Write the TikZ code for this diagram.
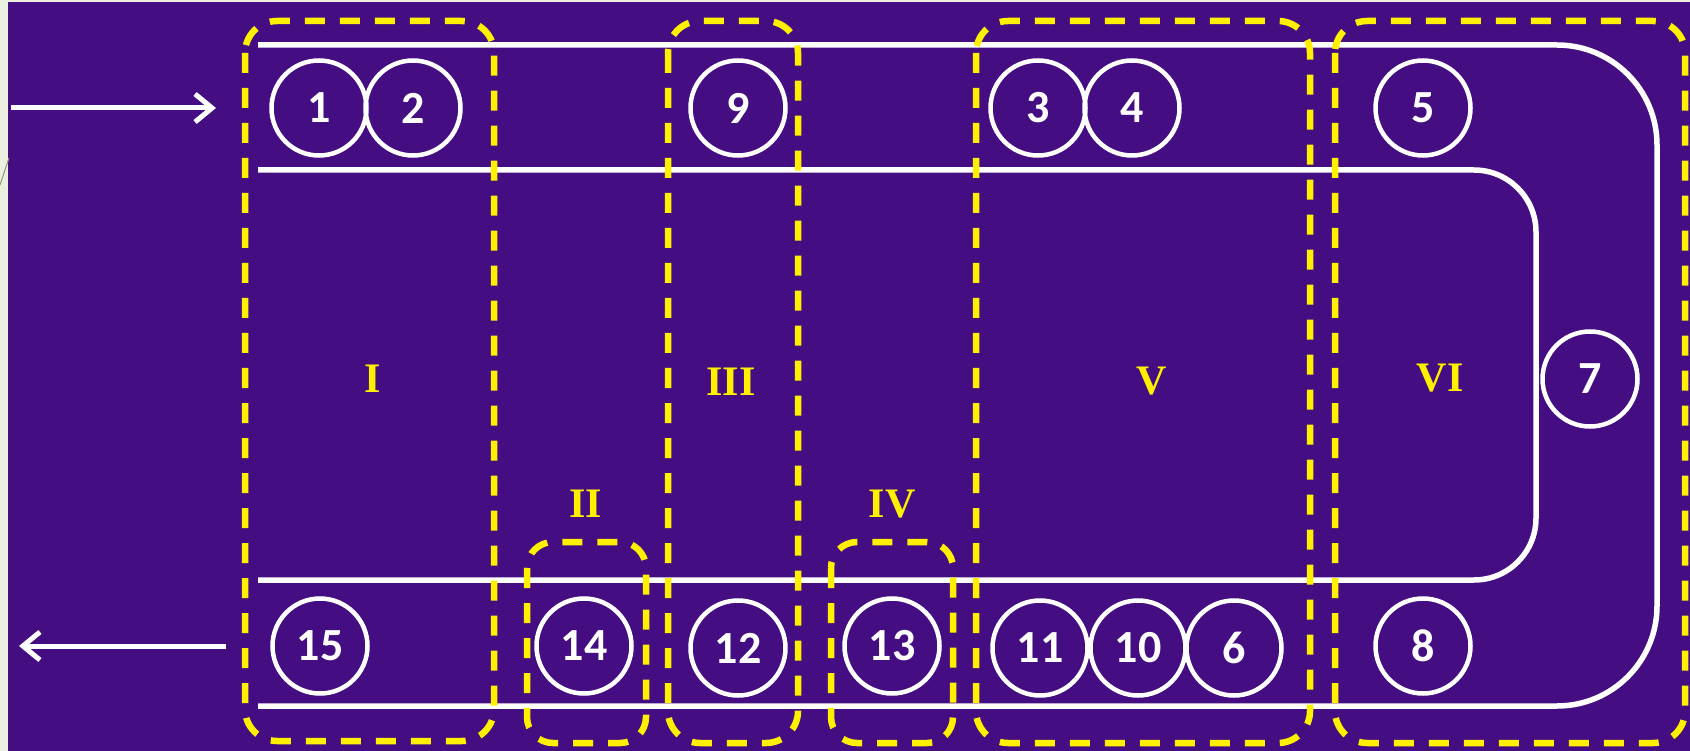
\documentclass[tikz,border=0pt]{standalone}
\usepackage{fontspec}
\newfontfamily\numfont{Carlito}
\newfontfamily\romfont{Liberation Serif}
\usetikzlibrary{arrows.meta}
\definecolor{bgpurple}{RGB}{68,14,130}
\definecolor{slidebg}{RGB}{236,240,224}
\definecolor{ylw}{RGB}{255,240,0}
\definecolor{thinline}{RGB}{150,150,120}
\begin{document}
\begin{tikzpicture}[x=1pt,y=-1pt,
  stn/.style={circle,draw=white,line width=4.5pt,minimum size=95pt,inner sep=0pt,text=white,font=\numfont\bfseries\fontsize{46}{46}\selectfont},
  track/.style={draw=white,line width=5.5pt},
  zone/.style={draw=ylw,line width=6.5pt,dash pattern=on 20pt off 15pt,rounded corners=32pt},
  zlabel/.style={text=ylw,font=\romfont\bfseries\fontsize{42}{42}\selectfont},
  flow/.style={draw=white,line width=5pt,-{Straight Barb[length=17pt,width=28pt,line width=5pt]}}]
\useasboundingbox (0,0) rectangle (1690,751);
\fill[slidebg] (0,0) rectangle (1690,751);
\fill[bgpurple] (8,2) rectangle (1690,751);
\draw[thinline,line width=1pt] (0,185) -- (9,158);
% tracks
\draw[track,rounded corners=100pt] (258,45) -| (1657,706) -- (258,706);
\draw[track,rounded corners=62pt] (258,170) -| (1536,580) -- (258,580);
% stations
\node[stn] (s1) at (319,108) {1};
\node[stn] (s2) at (413,108) {2};
\node[stn] (s9) at (738,108) {9};
\node[stn] (s3) at (1038,108) {3};
\node[stn] (s4) at (1132,108) {4};
\node[stn] (s5) at (1423,108) {5};
\node[stn] (s7) at (1590,379) {7};
\node[stn] (s8) at (1423,646) {8};
\node[stn] (s6) at (1234,648) {6};
\node[stn] (s10) at (1138,648) {10};
\node[stn] (s11) at (1040,648) {11};
\node[stn] (s13) at (892,646) {13};
\node[stn] (s12) at (738,648) {12};
\node[stn] (s14) at (584,646) {14};
\node[stn] (s15) at (320,646) {15};
% zones
\draw[zone] (245,21) rectangle (494,741);
\draw[zone,rounded corners=26pt] (527,542) rectangle (646,743);
\draw[zone] (668,21) rectangle (798,743);
\draw[zone,rounded corners=26pt] (831,542) rectangle (953,743);
\draw[zone] (976,21) rectangle (1310,743);
\draw[zone] (1335,21) rectangle (1685,743);
% zone labels
\node[zlabel] (zI) at (373,379) {I};
\node[zlabel] (zII) at (586,504) {II};
\node[zlabel] (zIII) at (731,382) {III};
\node[zlabel] (zIV) at (892,504) {IV};
\node[zlabel] (zV) at (1152,381) {V};
\node[zlabel] (zVI) at (1440,378) {VI};
% flow arrows
\coordinate (inS) at (11,108);
\coordinate (inE) at (216,108);
\draw[flow] (inS) -- (inE);
\coordinate (outS) at (226,646);
\coordinate (outE) at (19,646);
\draw[flow] (outS) -- (outE);
\end{tikzpicture}
\end{document}
